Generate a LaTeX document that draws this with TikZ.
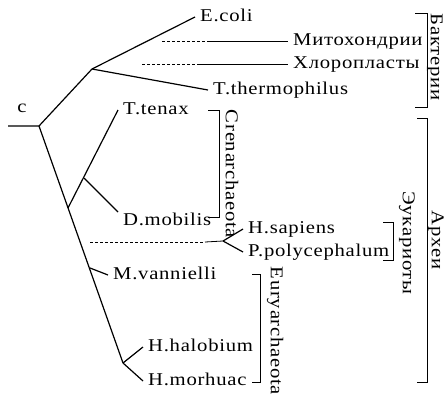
\documentclass[tikz,border=0pt]{standalone}
\usepackage{fontspec}
\setmainfont{Liberation Serif}[FakeStretch=1.15,LetterSpace=4]
\begin{document}
\begin{tikzpicture}[x=1pt,y=-1pt,
 branch/.style={line width=1.2pt},
 leader/.style={line width=.8pt},
 faint/.style={line width=.8pt,dash pattern=on 2.5pt off 2.5pt},
 brk/.style={line width=.9pt},
 leaf/.style={anchor=west,inner xsep=5pt,inner ysep=1pt,text height=12pt,text depth=3.5pt,font=\fontsize{18}{21}\selectfont},
 group/.style={rotate=-90,inner sep=1pt,text height=12pt,text depth=3.5pt,font=\fontsize{18}{21}\selectfont}]
\useasboundingbox (0,0) rectangle (445,399);
% junctions of the tree
\coordinate (stub) at (8,126);
\coordinate (root) at (39,126);
\coordinate (bac) at (92,69);
\coordinate (cren) at (68,208);
\coordinate (cren2) at (84,178);
\coordinate (mvanj) at (90,268);
\coordinate (halo) at (123,363);
\coordinate (euk) at (223,241);
% leaves
\node[inner sep=1pt,font=\fontsize{18}{21}\selectfont] (lc) at (22,108) {c};
\node[leaf] (ecoli) at (195,17) {E.coli};
\node[leaf] (tth) at (208,90) {T.thermophilus};
\node[leaf] (tten) at (118,110) {T.tenax};
\node[leaf,anchor=north west] (dmob) at (118,212) {D.mobilis};
\node[leaf] (mvan) at (108,275) {M.vannielli};
\node[leaf] (hsap) at (243,229) {H.sapiens};
\node[leaf] (ppol) at (243,252) {P.polycephalum};
\node[leaf] (hhal) at (143,347) {H.halobium};
\node[leaf] (hmor) at (143,381) {H.morhuac};
\node[leaf] (mito) at (288,41) {Митохондрии};
\node[leaf] (chlo) at (288,64) {Хлоропласты};
% tree
\draw[branch] (stub) -- (root) -- (bac);
\draw[branch] (root) -- (halo);
\draw[branch] (bac) -- (ecoli.west);
\draw[branch] (bac) -- (tth.west);
\draw[branch] (cren) -- (tten.west);
\draw[branch] (cren2) -- (dmob.north west);
\draw[branch] (mvanj) -- (mvan.west);
\draw[branch] (halo) -- (hhal.west);
\draw[branch] (halo) -- (hmor.west);
\draw[branch] (euk) -- (hsap.west);
\draw[branch] (euk) -- (ppol.west);
% endosymbionts and eukaryotes
\coordinate (m0) at (162,41);
\coordinate (m1) at (207,41);
\coordinate (c0) at (142,64);
\coordinate (c1) at (197,64);
\coordinate (e0) at (90,242);
\coordinate (e1) at (205,242);
\draw[faint] (m0) -- (m1);
\draw[leader] (m1) -- (mito.west);
\draw[faint] (c0) -- (c1);
\draw[leader] (c1) -- (chlo.west);
\draw[faint] (e0) -- (e1);
\draw[leader] (e1) -- (euk);
% brackets
\foreach \xa/\xb/\ya/\yb in {415/427/13/107,417/427/118/382,208/219/110/217,383/393/222/260,252/260/274/382}
  \draw[brk] (\xa,\ya) -- (\xb,\ya) -- (\xb,\yb) -- (\xa,\yb);
\node[group] (lbac) at (435,57) {Бактерии};
\node[group] (larc) at (436,240) {Археи};
\node[group] (lcren) at (230,174) {Crenarchaeota};
\node[group] (leuk) at (407,243) {Эукариоты};
\node[group] (leury) at (275,331) {Euryarchaeota};
\end{tikzpicture}
\end{document}
